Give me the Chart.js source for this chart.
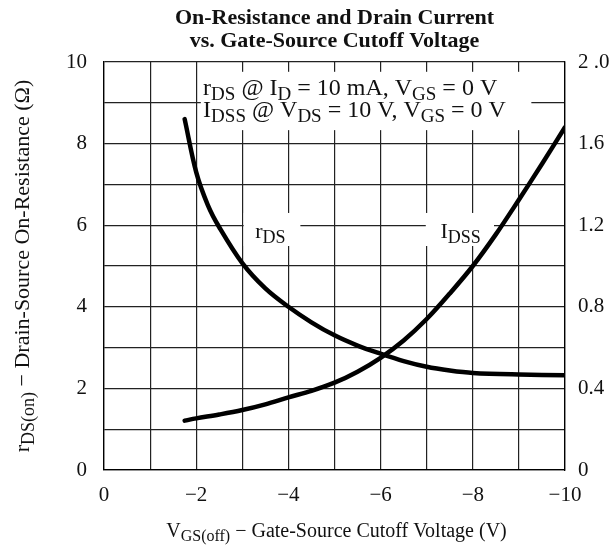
<!DOCTYPE html>
<html>
<head>
<meta charset="utf-8">
<script src="https://cdn.jsdelivr.net/npm/chart.js@4.4.1/dist/chart.umd.min.js"></script>
<style>
  html, body { margin: 0; padding: 0; background: #fff; }
  #wrap { width: 614px; height: 552px; }
</style>
</head>
<body>
<div id="wrap"><canvas id="chart" width="614" height="552"></canvas></div>
<script>
// --- Dados ---
const rdsVgs   = [-1.75, -2, -2.25, -2.5, -3, -3.5, -4, -4.5, -5, -5.5, -6, -6.5, -7, -7.5, -8, -9, -10];
const rdsOhms  = [8.6, 7.3, 6.5, 5.95, 5.07, 4.45, 4.0, 3.62, 3.3, 3.05, 2.85, 2.67, 2.53, 2.44, 2.38, 2.34, 2.32];
const idssVgs  = [-1.75, -2, -2.5, -3, -3.5, -4, -4.5, -5, -5.5, -6, -6.5, -7, -7.5, -8, -8.5, -9, -9.5, -10];
const idssAmps = [0.242, 0.253, 0.272, 0.294, 0.322, 0.356, 0.388, 0.428, 0.482, 0.55, 0.635, 0.74, 0.865, 1.0, 1.155, 1.325, 1.5, 1.68];

const xTickLabels     = { 0: '0', '-2': '\u22122', '-4': '\u22124', '-6': '\u22126', '-8': '\u22128', '-10': '\u221210' };
const leftTickLabels  = { 0: '0', 2: '2', 4: '4', 6: '6', 8: '8', 10: '10' };
const rightTickLabels = { '0': '0', '0.4': '0.4', '0.8': '0.8', '1.2': '1.2', '1.6': '1.6', '2': '2 .0' };

const SERIF = '"Liberation Serif", "DejaVu Serif", serif';
const INK = '#111';

// --- Texto com subscritos: "r_{DS} @ I_{D}" ---
function parseRich(str) {
    const parts = [];
    const re = /_\{([^}]*)\}/g;
    let last = 0, m;
    while ((m = re.exec(str)) !== null) {
        if (m.index > last) parts.push({ t: str.slice(last, m.index), sub: false });
        parts.push({ t: m[1], sub: true });
        last = re.lastIndex;
    }
    if (last < str.length) parts.push({ t: str.slice(last), sub: false });
    return parts;
}

function richText(ctx, str, x, y, size, align, weight) {
    const parts = parseRich(str);
    const w = weight || 'normal';
    const subSize = Math.round(size * 0.8);
    const widths = parts.map(p => {
        ctx.font = w + ' ' + (p.sub ? subSize : size) + 'px ' + SERIF;
        return ctx.measureText(p.t).width;
    });
    const total = widths.reduce((a, b) => a + b, 0);
    let cx = align === 'center' ? x - total / 2 : (align === 'right' ? x - total : x);
    ctx.textAlign = 'left';
    ctx.textBaseline = 'alphabetic';
    parts.forEach((p, i) => {
        ctx.font = w + ' ' + (p.sub ? subSize : size) + 'px ' + SERIF;
        ctx.fillText(p.t, cx, y + (p.sub ? size * 0.22 : 0));
        cx += widths[i];
    });
}

// --- Caixas brancas e textos ---
const decorPlugin = {
    id: 'decor',
    beforeDatasetsDraw(chart) {
        const { ctx, scales } = chart;
        const px = v => scales.x.getPixelForValue(v);
        const py = v => scales.y.getPixelForValue(v);
        ctx.save();
        ctx.fillStyle = '#fff';
        // legenda de condições
        ctx.fillRect(px(-2.1), py(9.76), px(-9.27) - px(-2.1), py(8.33) - py(9.76));
        // rótulo rDS
        ctx.fillRect(px(-3.03), py(6.3), px(-4.26) - px(-3.03), py(5.49) - py(6.3));
        // rótulo IDSS
        ctx.fillRect(px(-6.98), py(6.3), px(-8.46) - px(-6.98), py(5.49) - py(6.3));

        ctx.fillStyle = INK;
        richText(ctx, 'r_{DS} @ I_{D} = 10 mA, V_{GS} = 0 V', px(-2.15), py(9.2), 24, 'left');
        richText(ctx, 'I_{DSS} @ V_{DS} = 10 V, V_{GS} = 0 V', px(-2.15), py(8.65), 24, 'left');
        richText(ctx, 'r_{DS}', px(-3.28), py(5.69), 22, 'left');
        richText(ctx, 'I_{DSS}', px(-7.3), py(5.69), 22, 'left');
        ctx.restore();
    },
    afterDraw(chart) {
        const { ctx, chartArea } = chart;
        const mid = (chartArea.left + chartArea.right) / 2;
        ctx.save();
        ctx.fillStyle = INK;
        richText(ctx, 'On-Resistance and Drain Current', mid, 24, 22, 'center', 'bold');
        richText(ctx, 'vs. Gate-Source Cutoff Voltage', mid, 47, 22, 'center', 'bold');
        richText(ctx, 'V_{GS(off)} \u2212 Gate-Source Cutoff Voltage (V)', mid + 2, 537, 20, 'center');
        ctx.translate(29, (chartArea.top + chartArea.bottom) / 2);
        ctx.rotate(-Math.PI / 2);
        richText(ctx, 'r_{DS(on)} \u2212 Drain-Source On-Resistance (\u03A9)', 0, 0, 22, 'center');
        ctx.restore();
    }
};

// --- Configuração do Gráfico ---
const ctx = document.getElementById('chart').getContext('2d');
const chart = new Chart(ctx, {
    type: 'line',
    data: {
        datasets: [{
            label: 'rDS',
            data: rdsVgs.map((v, i) => ({ x: v, y: rdsOhms[i] })),
            yAxisID: 'y',
            borderColor: '#000',
            borderWidth: 4.5,
            borderCapStyle: 'round',
            pointRadius: 0,
            tension: 0.35,
            fill: false
        }, {
            label: 'IDSS',
            data: idssVgs.map((v, i) => ({ x: v, y: idssAmps[i] })),
            yAxisID: 'y1',
            borderColor: '#000',
            borderWidth: 4.5,
            borderCapStyle: 'round',
            pointRadius: 0,
            tension: 0.35,
            fill: false
        }]
    },
    options: {
        responsive: false,
        animation: false,
        devicePixelRatio: 1,
        layout: { padding: { top: 62, left: 0, right: 0, bottom: 0 } },
        plugins: { legend: { display: false }, tooltip: { enabled: false }, title: { display: false } },
        scales: {
            x: {
                type: 'linear', reverse: true, min: -10, max: 0,
                afterFit: s => { s.height = 82; },
                border: { color: '#000', width: 1.3 },
                grid: { color: '#222', lineWidth: 1.2, drawTicks: false },
                ticks: {
                    stepSize: 1, autoSkip: false, maxRotation: 0, padding: 13, color: INK,
                    font: { family: SERIF, size: 21 },
                    callback: v => xTickLabels[v] ?? ''
                }
            },
            y: {
                position: 'left', min: 0, max: 10,
                afterFit: s => { s.width = 104; },
                border: { color: '#000', width: 1.3 },
                grid: { color: '#222', lineWidth: 1.2, drawTicks: false },
                ticks: {
                    stepSize: 1, autoSkip: false, padding: 17, color: INK,
                    font: { family: SERIF, size: 21 },
                    callback: v => leftTickLabels[v] ?? ''
                }
            },
            y1: {
                position: 'right', min: 0, max: 2,
                afterFit: s => { s.width = 49; },
                border: { color: '#000', width: 1.3 },
                grid: { display: false, drawTicks: false },
                ticks: {
                    stepSize: 0.4, autoSkip: false, padding: 13, color: INK,
                    font: { family: SERIF, size: 21 },
                    callback: v => rightTickLabels[String(Math.round(v * 10) / 10)] ?? ''
                }
            }
        }
    },
    plugins: [decorPlugin]
});
</script>
</body>
</html>
